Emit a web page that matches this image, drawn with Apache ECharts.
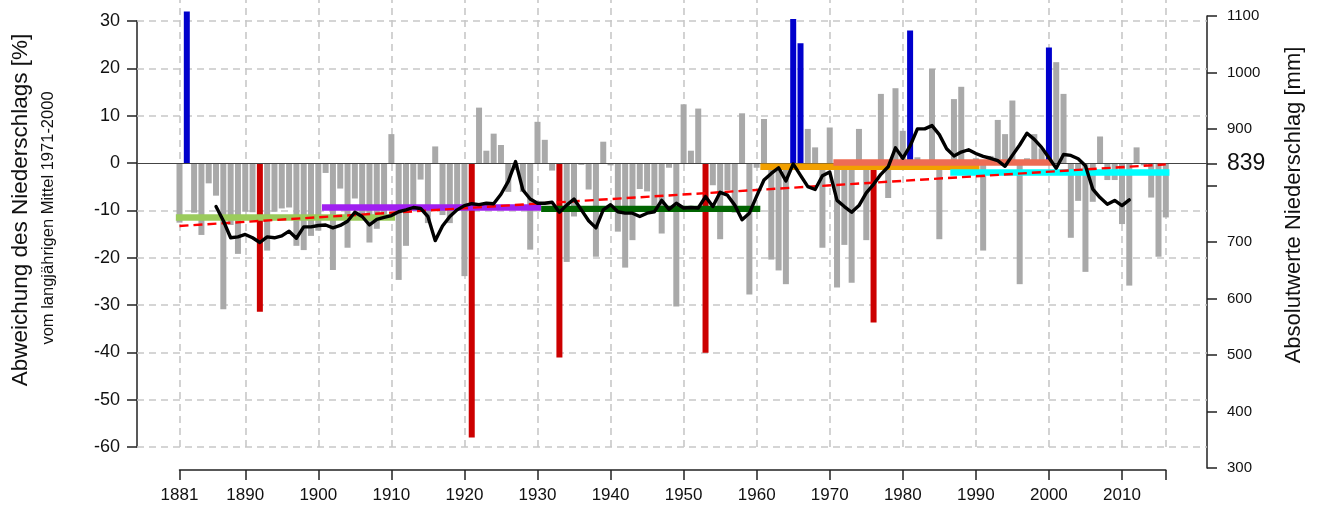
<!DOCTYPE html>
<html>
<head>
<meta charset="utf-8">
<script src="https://cdn.jsdelivr.net/npm/echarts@6/dist/echarts.min.js"></script>
<style>
  html, body { margin: 0; padding: 0; background: #ffffff; }
  #chart { width: 1318px; height: 510px; }
</style>
</head>
<body>
<div id="chart"></div>
<script>
// Jahresniederschlag als Abweichung vom Mittel 1971-2000 (= 839 mm), 1881-2016

const firstYear = 1881;

// Abweichung in Prozent, ein Wert je Jahr ab 1881
const deviation = [
  -12.6, 32.0, -10.5, -15.2, -4.3, -6.9, -30.9, -13.1, -19.2, -10.3,   // 1881-1890
  -10.4, -31.4, -18.5, -10.3, -9.6, -9.4, -17.5, -18.4, -15.4, -14.3,  // 1891-1900
  -2.1, -22.6, -5.4, -17.9, -7.5, -11.0, -16.8, -13.9, -12.0, 6.1,     // 1901-1910
  -24.7, -17.5, -10.0, -3.5, -12.7, 3.5, -11.0, -12.7, -9.0, -23.9,    // 1911-1920
  -58.0, 11.7, 2.6, 6.2, 3.8, -6.1, -1.5, -6.1, -18.3, 8.7,            // 1921-1930
  4.9, -1.6, -41.1, -20.9, -11.3, -0.4, -5.6, -19.8, 4.5, -0.5,        // 1931-1940
  -14.5, -22.1, -16.3, -5.5, -6.0, -9.0, -14.9, -1.0, -30.3, 12.4,     // 1941-1950
  2.6, 11.5, -40.1, -4.7, -16.1, -5.7, -10.5, 10.5, -27.8, -1.0,       // 1951-1960
  9.3, -20.4, -22.7, -25.6, 30.4, 25.3, 7.2, 3.3, -17.9, 7.5,          // 1961-1970
  -26.3, -17.3, -25.3, 7.2, -16.3, -33.7, 14.6, -7.4, 15.8, 6.8,       // 1971-1980
  28.0, 1.2, -1.0, 19.9, -16.1, -1.0, 13.5, 16.1, -0.5, 1.0,           // 1981-1990
  -18.5, 1.5, 9.1, 6.1, 13.2, -25.6, 1.0, 6.1, 3.1, 24.4,              // 1991-2000
  21.3, 14.6, -15.8, -8.0, -23.0, -8.2, 5.6, -3.6, -3.6, -12.9,        // 2001-2010
  -25.9, 3.3, -0.5, -7.3, -19.8, -11.5                                 // 2011-2016
];

// Jahre mit den groessten Ueberschuessen bzw. Defiziten
const wetYears = [1882, 1965, 1966, 1981, 2000];
const dryYears = [1892, 1921, 1933, 1953, 1976];

// geglaettete Reihe (gleitendes Mittel), 1886-2011
const smoothStart = 1886;
const smoothed = [
  -9.2, -12.2, -15.8, -15.6, -15.1, -15.8, -16.8, -15.6, -15.8, -15.4, // 1886-1895
  -14.4, -15.9, -13.5, -13.5, -13.2, -13.1, -13.7, -13.2, -12.3, -10.4, // 1896-1905
  -11.3, -13.1, -11.9, -11.5, -11.1, -10.3, -9.9, -9.4, -9.6, -11.3,  // 1906-1915
  -16.4, -13.3, -11.3, -9.9, -9.0, -8.6, -8.8, -8.5, -8.6, -6.6,      // 1916-1925
  -3.9, 0.3, -5.7, -7.6, -8.5, -8.5, -8.3, -10.4, -8.9, -7.6,         // 1926-1935
  -9.9, -12.2, -13.7, -9.9, -8.8, -10.3, -10.6, -10.6, -11.3, -10.6,  // 1936-1945
  -10.3, -7.9, -9.8, -8.5, -9.5, -9.4, -9.5, -7.1, -9.2, -6.2,        // 1946-1955
  -6.8, -8.9, -12.0, -10.6, -7.0, -3.6, -2.2, -1.0, -3.8, -0.2,       // 1956-1965
  -2.6, -5.0, -5.6, -2.7, -1.9, -7.9, -9.2, -10.4, -9.0, -6.3,        // 1966-1975
  -4.5, -2.4, -0.8, 3.2, 1.0, 3.6, 7.2, 7.2, 7.9, 6.0,                // 1976-1985
  3.0, 1.5, 2.3, 2.8, 2.0, 1.4, 1.0, 0.5, -0.7, 1.6,                  // 1986-1995
  3.8, 6.3, 5.0, 3.3, 1.1, -1.1, 1.8, 1.6, 0.9, -0.6,                 // 1996-2005
  -5.5, -7.3, -8.7, -7.9, -9.0, -7.8                                  // 2006-2011
];

// 30-jaehrige Mittel
const periodStart = [1881, 1901, 1931, 1961, 1971, 1987];
const periodEnd   = [1910, 1930, 1960, 1990, 2000, 2016];
const periodMean  = [-11.5, -9.4, -9.7, -0.8, 0.1, -2.0];

// linearer Trend
const trendYears  = [1881, 2016];
const trendValues = [-13.3, -0.3];

// Achsen
const yearLabels = [1881, 1890, 1900, 1910, 1920, 1930, 1940, 1950, 1960, 1970, 1980, 1990, 2000, 2010];
const lastYear = 2016;
const percentTicks = [-60, -50, -40, -30, -20, -10, 0, 10, 20, 30];
const referenceMm = 839;
const mmTicks = [300, 400, 500, 600, 700, 800, 900, 1000, 1100];
const mmLabels = [300, 400, 500, 600, 700, 900, 1000, 1100];

// ---------- Darstellung ----------
const FONT = '"Liberation Sans", Arial, Helvetica, sans-serif';
const INK = '#111111';
const GRID_COLOR = '#c8c8c8';
const BAR_GREY = '#a9a9a9';
const WET = '#0000cc';
const DRY = '#cc0000';
const periodColors = ['#9bcb5c', '#a020f0', '#006400', '#f2a000', '#ee6c55', '#00ffff'];

// Pixelgeometrie des Plotbereichs
const plotLeft = 137, plotRight = 1207, plotBottom = 447;
const x1881 = 179.5, pxPerYear = 7.306;
const xMin = firstYear - (x1881 - plotLeft) / pxPerYear;
const xMax = firstYear + (plotRight - x1881) / pxPerYear;
const pxPerPercent = (447 - 21) / 90;
const yMaxMain = -60 + plotBottom / pxPerPercent;

const years = deviation.map((_, i) => firstYear + i);

const barData = deviation.map((v, i) => {
  const yr = years[i];
  let color = BAR_GREY;
  if (wetYears.includes(yr)) color = WET;
  else if (dryYears.includes(yr)) color = DRY;
  return { value: [yr, v], itemStyle: { color: color } };
});

const smoothData = smoothed.map((v, i) => [smoothStart + i, v]);

const verticalLines = yearLabels.concat([lastYear]).map(y => ({ xAxis: y }));
const horizontalLines = percentTicks.filter(v => v !== 0).map(v => ({ yAxis: v }));

const periodSeries = periodStart.map((s, i) => ({
  type: 'line',
  xAxisIndex: 0, yAxisIndex: 0,
  data: [[s - 0.5, periodMean[i]], [periodEnd[i] + 0.5, periodMean[i]]],
  symbol: 'none',
  silent: true,
  z: 4,
  lineStyle: { color: periodColors[i], width: 6.4, cap: 'butt' }
}));

const mmAxisTicks = mmTicks.concat([referenceMm]).sort((a, b) => a - b);
const mmAxisLabels = mmLabels.concat([referenceMm]).sort((a, b) => a - b);

const axisLineStyle = { color: '#222222', width: 1.5 };

const option = {
  animation: false,
  backgroundColor: '#ffffff',
  textStyle: { fontFamily: FONT },
  grid: [
    // Plotbereich mit Balken und Linien
    { left: plotLeft, right: 1318 - plotRight, top: 0, bottom: 510 - plotBottom, outerBoundsMode: 'none', containLabel: false },
    // linke Achse (Prozent)
    { left: plotLeft, right: 1318 - plotRight, top: 21, bottom: 510 - 447, outerBoundsMode: 'none', containLabel: false },
    // rechte Achse (mm)
    { left: plotLeft, right: 1318 - plotRight, top: 16, bottom: 510 - 468, outerBoundsMode: 'none', containLabel: false },
    // Zeitachse
    { left: x1881, right: 1318 - (x1881 + (lastYear - firstYear) * pxPerYear), top: 460, height: 10, outerBoundsMode: 'none', containLabel: false }
  ],
  xAxis: [
    { type: 'value', gridIndex: 0, min: xMin, max: xMax, show: false },
    { type: 'value', gridIndex: 1, min: xMin, max: xMax, show: false },
    { type: 'value', gridIndex: 2, min: xMin, max: xMax, show: false },
    {
      type: 'value', gridIndex: 3, min: firstYear, max: lastYear, position: 'bottom',
      axisLine: { show: true, onZero: false, lineStyle: axisLineStyle },
      axisTick: { show: true, length: 10, lineStyle: axisLineStyle, customValues: yearLabels.concat([lastYear]) },
      axisLabel: { show: true, customValues: yearLabels, fontSize: 17, color: INK, margin: 17, hideOverlap: false, formatter: v => String(v) },
      splitLine: { show: false }
    }
  ],
  yAxis: [
    { type: 'value', gridIndex: 0, min: -60, max: yMaxMain, show: false },
    {
      type: 'value', gridIndex: 1, min: -60, max: 30, interval: 10, position: 'left',
      axisLine: { show: true, lineStyle: axisLineStyle },
      axisTick: { show: true, length: 10, lineStyle: axisLineStyle },
      axisLabel: { fontSize: 18, color: INK, margin: 17, hideOverlap: false },
      splitLine: { show: false }
    },
    {
      type: 'value', gridIndex: 2, min: 300, max: 1100, position: 'right',
      axisLine: { show: true, lineStyle: axisLineStyle },
      axisTick: { show: true, length: 10, lineStyle: axisLineStyle, customValues: mmAxisTicks },
      axisLabel: {
        customValues: mmAxisLabels, fontSize: 15, color: INK, margin: 20, hideOverlap: false,
        formatter: v => (v === referenceMm ? '{ref|' + v + '}' : String(v)),
        rich: { ref: { fontSize: 23, color: INK, fontFamily: FONT } }
      },
      splitLine: { show: false }
    },
    { type: 'value', gridIndex: 3, min: 0, max: 1, show: false }
  ],
  graphic: [
    {
      type: 'text', x: 21, y: 210, rotation: Math.PI / 2,
      style: { text: 'Abweichung des Niederschlags [%]', font: '22.5px ' + FONT, fill: INK,
               align: 'center', verticalAlign: 'middle', textAlign: 'center', textVerticalAlign: 'middle' }
    },
    {
      type: 'text', x: 48, y: 218, rotation: Math.PI / 2,
      style: { text: 'vom langjährigen Mittel 1971-2000', font: '16.5px ' + FONT, fill: INK,
               align: 'center', verticalAlign: 'middle', textAlign: 'center', textVerticalAlign: 'middle' }
    },
    {
      type: 'text', x: 1294, y: 205, rotation: Math.PI / 2,
      style: { text: 'Absolutwerte Niederschlag [mm]', font: '22px ' + FONT, fill: INK,
               align: 'center', verticalAlign: 'middle', textAlign: 'center', textVerticalAlign: 'middle' }
    }
  ],
  series: [
    // Gitternetz
    {
      type: 'line', xAxisIndex: 0, yAxisIndex: 0, data: [], z: 1, silent: true,
      markLine: {
        silent: true, z: 1, symbol: ['none', 'none'], label: { show: false }, animation: false,
        lineStyle: { color: GRID_COLOR, width: 1.6, type: [7, 5] },
        emphasis: { disabled: true },
        data: verticalLines.concat(horizontalLines)
      }
    },
    // jaehrliche Abweichungen
    {
      type: 'bar', xAxisIndex: 0, yAxisIndex: 0, data: barData, barWidth: 6, z: 2, silent: true
    },
    // Nulllinie (= 839 mm)
    {
      type: 'line', xAxisIndex: 0, yAxisIndex: 0, data: [], z: 3, silent: true,
      markLine: {
        silent: true, z: 3, symbol: ['none', 'none'], label: { show: false }, animation: false,
        lineStyle: { color: '#444444', width: 1, type: 'solid' },
        emphasis: { disabled: true },
        data: [{ yAxis: 0 }]
      }
    }
  ].concat(periodSeries).concat([
    // linearer Trend
    {
      type: 'line', xAxisIndex: 0, yAxisIndex: 0,
      data: trendYears.map((y, i) => [y, trendValues[i]]),
      symbol: 'none', silent: true, z: 5,
      lineStyle: { color: '#ff0000', width: 2.4, type: [9, 5] }
    },
    // geglaettete Reihe
    {
      type: 'line', xAxisIndex: 0, yAxisIndex: 0, data: smoothData,
      symbol: 'none', silent: true, z: 6,
      lineStyle: { color: '#000000', width: 3.4, join: 'round', cap: 'round' }
    }
  ])
};

const chart = echarts.init(document.getElementById('chart'), null, { renderer: 'canvas', width: 1318, height: 510 });
chart.setOption(option);
</script>
</body>
</html>
